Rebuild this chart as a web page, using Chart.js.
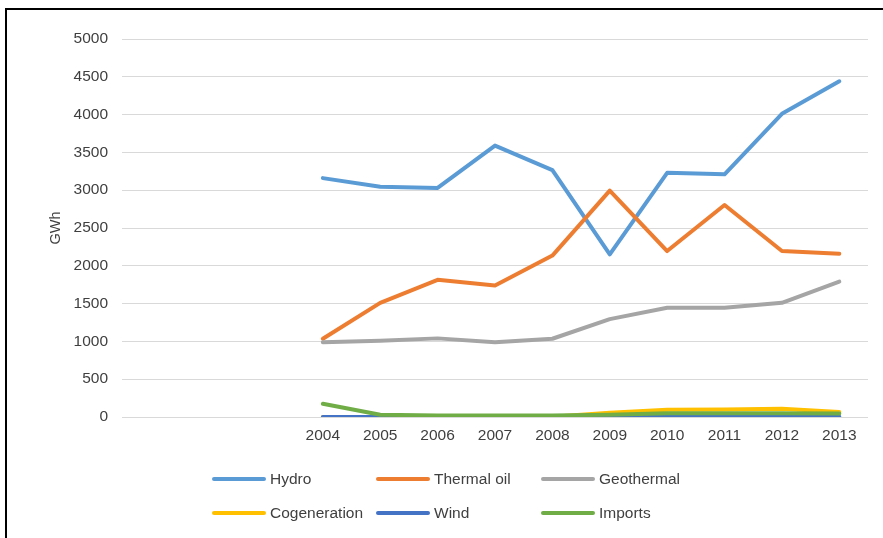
<!DOCTYPE html>
<html>
<head>
<meta charset="utf-8">
<script src="https://cdn.jsdelivr.net/npm/chart.js@4"></script>
<style>
  body { margin: 0; background: #fff; font-family: "Liberation Sans", Arial, sans-serif; }
  #wrap { position: relative; width: 883px; height: 538px; overflow: hidden; }
  #frame { position: absolute; left: 5px; top: 8px; width: 2000px; height: 2000px;
           border-left: 2px solid #000; border-top: 2px solid #000; }
  #legend { position: absolute; left: 0; top: 0; }
  .item { position: absolute; display: flex; align-items: center; font-size: 15.5px; color: #404040; white-space: nowrap; }
  .swatch { width: 54px; height: 4px; border-radius: 2px; margin-right: 4px; }
</style>
</head>
<body>
<div id="wrap">
  <div id="frame"></div>
  <canvas id="graf" width="883" height="538"></canvas>
  <div id="legend"></div>
</div>
<script>
  // tre tomma kategorier före 2004, som i originalet
  const blanks = ['', '', ''];
  const years = ['2004', '2005', '2006', '2007', '2008', '2009', '2010', '2011', '2012', '2013'];

  const hydro        = [3160, 3045, 3030, 3590, 3265, 2150, 3230, 3210, 4010, 4440];
  const thermalOil   = [1035, 1510, 1815, 1740, 2135, 2995, 2195, 2805, 2195, 2160];
  const geothermal   = [990, 1010, 1040, 990, 1035, 1295, 1445, 1445, 1510, 1790];
  const cogeneration = [0, 0, 0, 0, 5, 55, 95, 100, 110, 65];
  const wind         = [0, 0, 0, 0, 0, 2, 3, 3, 3, 3];
  const imports      = [175, 30, 20, 20, 20, 30, 50, 50, 50, 45];

  const yTicks = [0, 500, 1000, 1500, 2000, 2500, 3000, 3500, 4000, 4500, 5000];

  const series = [
    { label: 'Hydro', data: hydro, color: '#5B9BD5' },
    { label: 'Thermal oil', data: thermalOil, color: '#ED7D31' },
    { label: 'Geothermal', data: geothermal, color: '#A5A5A5' },
    { label: 'Cogeneration', data: cogeneration, color: '#FFC000' },
    { label: 'Wind', data: wind, color: '#4472C4' },
    { label: 'Imports', data: imports, color: '#70AD47' }
  ];

  const textColor = '#3f3f3f';
  const font = { family: '"Liberation Sans", Arial, sans-serif', size: 15.5 };

  const datasets = series.map((s, i) => ({
    label: s.label,
    data: blanks.map(() => null).concat(s.data),
    borderColor: s.color,
    backgroundColor: s.color,
    borderWidth: 4,
    borderCapStyle: 'round',
    borderJoinStyle: 'round',
    pointRadius: 0,
    tension: 0,
    fill: false,
    order: series.length - i   // sista serien överst, som i Excel
  }));

  const ctx = document.getElementById('graf').getContext('2d');
  new Chart(ctx, {
    type: 'line',
    data: { labels: blanks.concat(years), datasets: datasets },
    options: {
      responsive: false,
      animation: false,
      layout: { padding: { left: 45, right: 15, top: 39, bottom: 91 } },
      plugins: { legend: { display: false }, tooltip: { enabled: false } },
      scales: {
        x: {
          offset: true,
          grid: { display: false, drawTicks: false },
          border: { display: false },
          ticks: { color: textColor, font: font, padding: 9, maxRotation: 0, autoSkip: false },
          afterFit: (scale) => { scale.height = 30; }
        },
        y: {
          min: 0,
          max: 5000,
          afterBuildTicks: (scale) => { scale.ticks = yTicks.map(v => ({ value: v })); },
          grid: { color: '#d9d9d9', lineWidth: 1, drawTicks: false },
          border: { display: false },
          ticks: { color: textColor, font: font, padding: 14, callback: (v) => String(v) },
          title: { display: true, text: 'GWh', color: textColor,
                   font: { family: font.family, size: 14.5 }, padding: { top: 2, bottom: 0 } },
          afterFit: (scale) => { scale.width = 77; }
        }
      }
    }
  });

  // egen legend i tre kolumner
  const cols = [212, 376, 541];
  const rows = [479, 513];
  const legend = document.getElementById('legend');
  series.forEach((s, i) => {
    const el = document.createElement('div');
    el.className = 'item';
    el.style.left = cols[i % 3] + 'px';
    el.style.top = (rows[Math.floor(i / 3)] - 10) + 'px';
    el.style.height = '20px';
    el.innerHTML = '<span class="swatch" style="background:' + s.color + '"></span>' + s.label;
    legend.appendChild(el);
  });
</script>
</body>
</html>
